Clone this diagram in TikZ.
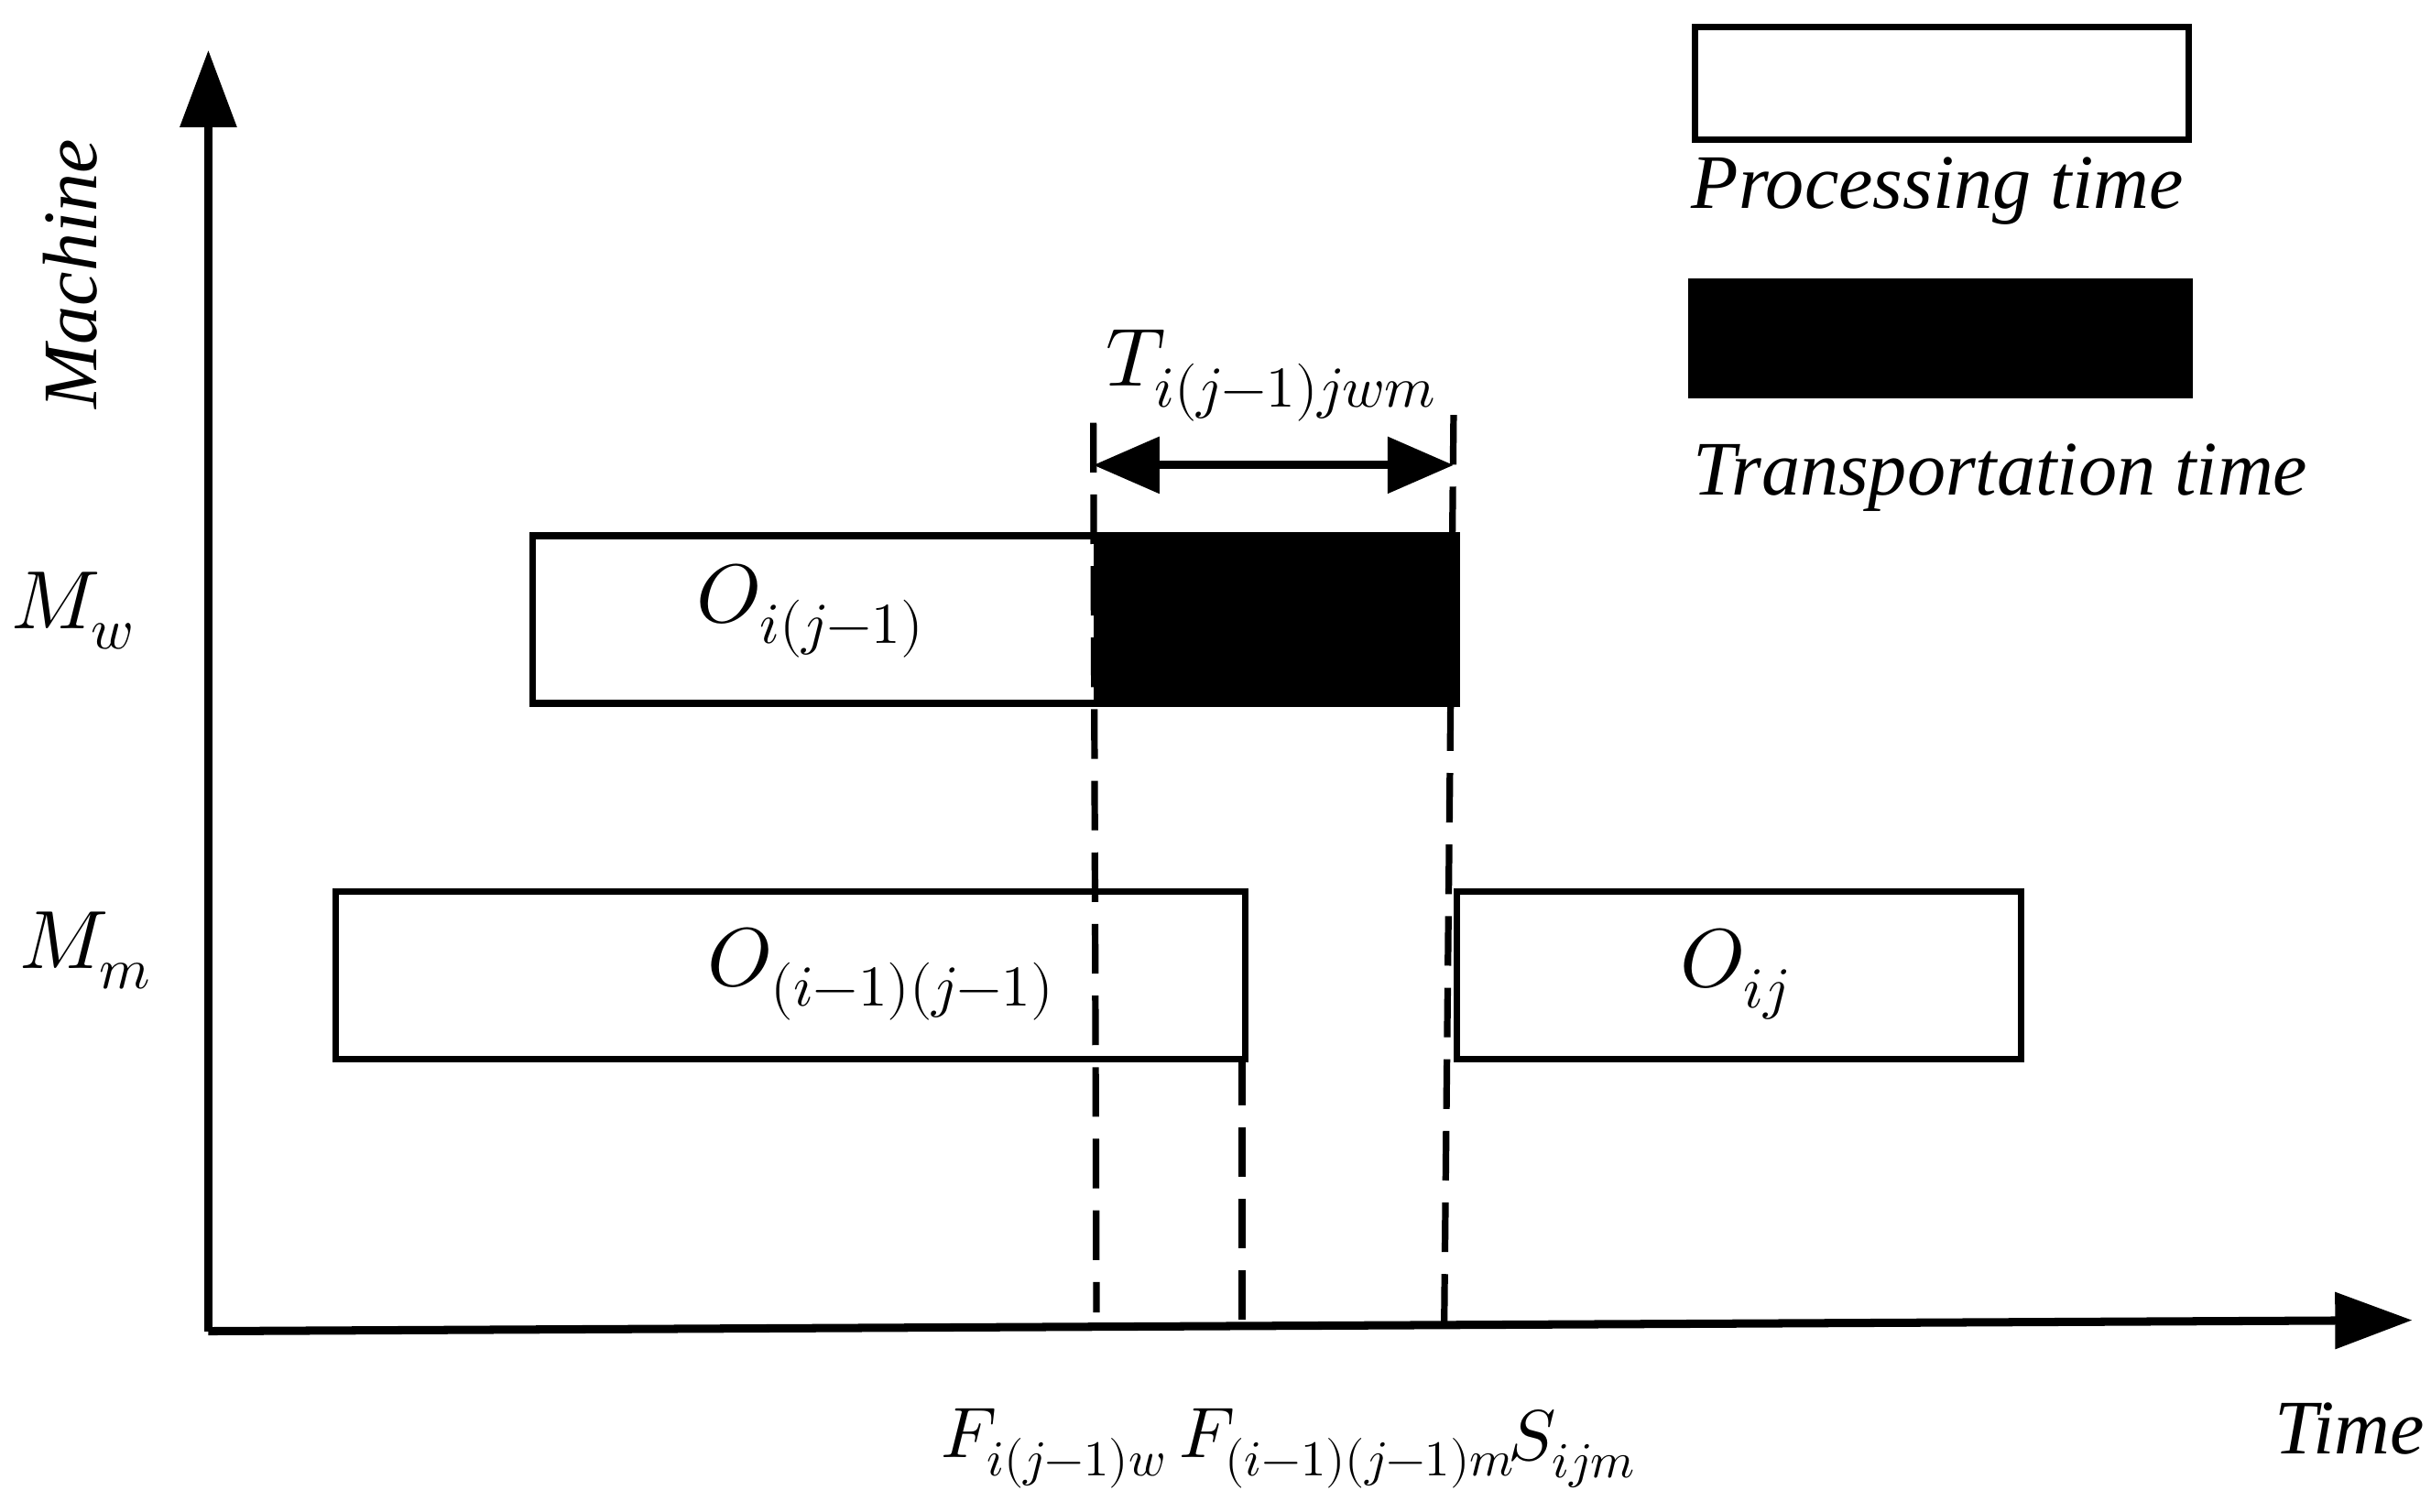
\documentclass[tikz,border=0pt]{standalone}
\usepackage{fontspec}
\setmainfont{Liberation Serif}
\usepackage{unicode-math}
\setmathfont{Latin Modern Math}
\usetikzlibrary{arrows.meta}
\begin{document}
\begin{tikzpicture}[x=0.01cm,y=-0.01cm,
  box/.style={draw,line width=1.2pt,fill=white},
  blk/.style={draw,line width=1.2pt,fill=black},
  dsh/.style={line width=1.2pt,dash pattern=on 9pt off 4pt},
  lbl/.style={font=\fontsize{14}{17}\selectfont\itshape},
  big/.style={font=\fontsize{15}{18}\selectfont},
  bot/.style={font=\fontsize{13}{16}\selectfont,inner sep=0pt}]
\useasboundingbox (0,0) rectangle (1552,965);
\coordinate (o) at (133,850);
\coordinate (ytop) at (133,32);
\coordinate (xend) at (1540,843);
\draw[line width=1.5pt,-{Triangle[length=14pt,width=10pt]}] (o) -- (ytop);
\draw[line width=1.5pt,-{Triangle[length=14pt,width=10pt]}] (o) -- (xend);
% legend
\node[box,minimum width=315*0.01cm,minimum height=72*0.01cm,anchor=north west] (lp) at (1080,15) {};
\node[lbl] (lpt) at (1237,122) {Processing time};
\node[blk,minimum width=318*0.01cm,minimum height=72*0.01cm,anchor=north west] (lt) at (1078,178) {};
\node[lbl] (ltt) at (1277,305) {Transportation time};
\node[lbl,rotate=90] (mach) at (45,175) {Machine};
\node[big] (mw) at (47,390) {$M_w$};
\node[big] (mm) at (55,607) {$M_m$};
% boxes
\node[box,minimum width=360*0.01cm,minimum height=107*0.01cm,anchor=north west] (b1) at (338,340) {};
\node[blk,minimum width=230*0.01cm,minimum height=107*0.01cm,anchor=north west] (b2) at (698,340) {};
\node[box,minimum width=581*0.01cm,minimum height=107*0.01cm,anchor=north west] (b3) at (212,567) {};
\node[box,minimum width=360*0.01cm,minimum height=107*0.01cm,anchor=north west] (b4) at (928,567) {};
\node[big] (t1) at (518,390) {$O_{i(j-1)}$};
\node[big] (t3) at (563,622) {$O_{(i-1)(j-1)}$};
\node[big] (t4) at (1108,622) {$O_{ij}$};
% dashed
\coordinate (d1t) at (698,270); \coordinate (d1b) at (700,838);
\coordinate (d2t) at (928,265); \coordinate (d2b) at (922,845);
\coordinate (d3t) at (793,674); \coordinate (d3b) at (793,845);
\draw[dsh] (d1t) -- (d1b);
\draw[dsh] (d2t) -- (d2b);
\draw[dsh] (d3t) -- (d3b);
\coordinate (al) at (698,297); \coordinate (ar) at (928,297);
\draw[line width=1.5pt,{Triangle[length=12pt,width=10pt]}-{Triangle[length=12pt,width=10pt]}] (al) -- (ar);
\node[big] (T) at (812,240) {$T_{i(j-1)jwm}$};
\node[bot,anchor=west] (f1) at (600,925) {$F_{i(j-1)w}$};
\node[bot,anchor=west] (f2) at (752,925) {$F_{(i-1)(j-1)m}$};
\node[bot,anchor=west] (s) at (962,925) {$S_{ijm}$};
\node[lbl] (time) at (1500,912) {Time};
\end{tikzpicture}
\end{document}
